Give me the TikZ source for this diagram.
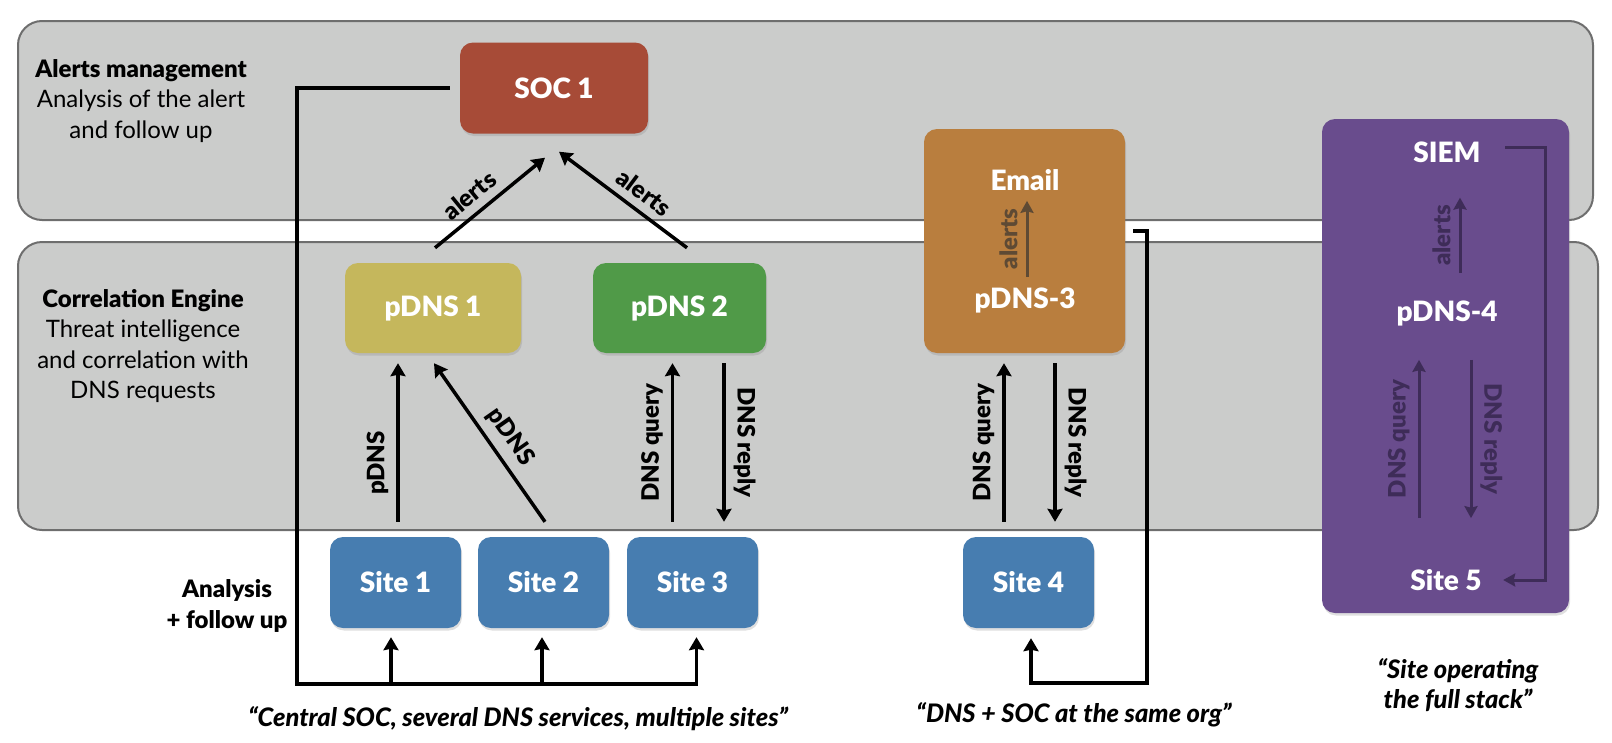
\documentclass[tikz,border=0pt]{standalone}
\usepackage{fontspec}
\setmainfont{Lato}
\newfontfamily\heavyfont{Lato Black}
\usetikzlibrary{arrows.meta,shadows,positioning}

\definecolor{bandfill}{RGB}{203,204,203}
\definecolor{bandline}{RGB}{110,110,110}
\definecolor{soccol}{RGB}{167,75,55}
\definecolor{pdnsonecol}{RGB}{197,183,92}
\definecolor{pdnstwocol}{RGB}{80,154,72}
\definecolor{emailcol}{RGB}{185,126,62}
\definecolor{stackcol}{RGB}{105,76,141}
\definecolor{sitecol}{RGB}{71,125,176}
\definecolor{emailarr}{RGB}{94,74,52}
\definecolor{stackarr}{RGB}{62,44,88}

\newcommand{\boxfont}{\fontsize{28}{31}\selectfont\heavyfont}
\newcommand{\lblfont}{\fontsize{24}{27}\selectfont\heavyfont}
\newcommand{\sidefont}{\fontsize{24}{30.5}\selectfont}
\newcommand{\sidehead}{\heavyfont}
\newcommand{\quotefont}{\fontsize{25.5}{30}\selectfont\heavyfont\itshape}

\tikzset{
  band/.style={draw=bandline,fill=bandfill,line width=2pt,rounded corners=24pt},
  box/.style={rounded corners=13pt,text=white,font=\boxfont,inner sep=0pt,
    drop shadow={opacity=0.25,shadow xshift=1pt,shadow yshift=-2.5pt}},
  sitebox/.style={box,fill=sitecol,minimum width=131pt,minimum height=91pt},
  boxtxt/.style={text=white,font=\boxfont,inner sep=0pt},
  arr/.style={line width=3.5pt,-{Stealth[length=13pt,width=15pt,inset=1.5pt]}},
  inarr/.style={line width=3pt,-{Stealth[length=12pt,width=13pt,inset=1.5pt]}},
  lbl/.style={font=\lblfont,sloped,above=6pt,inner sep=2pt},
}

\begin{document}
\begin{tikzpicture}[x=1pt,y=-1pt]
\useasboundingbox (0,0) rectangle (1612,742);
% layers
\draw[band] (18,21) rectangle (1593,220);
\draw[band] (18,242) rectangle (1598,530);
\node[font=\sidefont,align=center] (alertsmgmt) at (141,101) {{\sidehead Alerts management}\\Analysis of the alert\\and follow up};
\node[font=\sidefont,align=center] (correng) at (143,346) {{\sidehead Correlation Engine}\\Threat intelligence\\and correlation with\\DNS requests};
\node[font=\sidefont\sidehead,align=center] (followup) at (227,606) {Analysis\\+ follow up};

% boxes
\node[box,fill=soccol,minimum width=188pt,minimum height=91pt] (soc1) at (554,88) {SOC 1};
\node[box,fill=pdnsonecol,minimum width=176pt,minimum height=90pt] (pdns1) at (433,308) {pDNS 1};
\node[box,fill=pdnstwocol,minimum width=173pt,minimum height=90pt] (pdns2) at (679.5,308) {pDNS 2};
\node[box,fill=emailcol,minimum width=201pt,minimum height=224pt] (pdns3) at (1024.5,241) {};
\node[boxtxt] (email) at (1025,180) {Email};
\node[boxtxt] (pdns3txt) at (1025,300) {pDNS-3};
\node[box,fill=stackcol,minimum width=247pt,minimum height=494pt] (stack) at (1445.5,366) {};
\node[boxtxt] (siem) at (1447,152) {SIEM};
\node[boxtxt] (pdns4) at (1447,313) {pDNS-4};
\node[boxtxt] (site5) at (1446,580) {Site 5};
\node[sitebox] (site1) at (395.5,582.5) {Site 1};
\node[sitebox] (site2) at (543.5,582.5) {Site 2};
\node[sitebox] (site3) at (692.5,582.5) {Site 3};
\node[sitebox] (site4) at (1028.5,582.5) {Site 4};

% alerts
\draw[arr] ([xshift=2pt,yshift=15pt]pdns1.north) -- node[lbl,pos=0.42]{alerts} ([xshift=-9pt,yshift=-24pt]soc1.south);
\draw[arr] ([xshift=7.5pt,yshift=15pt]pdns2.north) -- node[lbl,pos=0.42]{alerts} ([xshift=5pt,yshift=-18pt]soc1.south);
% sites to pDNS
\draw[arr] ([xshift=2.5pt,yshift=15pt]site1.north) -- node[lbl,pos=0.37]{pDNS} ([xshift=-35pt,yshift=-10pt]pdns1.south);
\draw[arr] ([xshift=1.5pt,yshift=15pt]site2.north) -- node[lbl,pos=0.46]{pDNS} ([xshift=1pt,yshift=-10pt]pdns1.south);
\draw[arr] ([xshift=-20pt,yshift=15pt]site3.north) -- node[lbl]{DNS query} ([xshift=-7pt,yshift=-10pt]pdns2.south);
\draw[arr] ([xshift=44.5pt,yshift=-10pt]pdns2.south) -- node[lbl]{DNS reply} ([xshift=31.5pt,yshift=15pt]site3.north);
\draw[arr] ([xshift=-24.5pt,yshift=15pt]site4.north) -- node[lbl]{DNS query} ([xshift=-20.5pt,yshift=-10pt]pdns3.south);
\draw[arr] ([xshift=30.5pt,yshift=-10pt]pdns3.south) -- node[lbl]{DNS reply} ([xshift=26.5pt,yshift=15pt]site4.north);
% inside the boxes
\draw[inarr,emailarr] ([xshift=2pt,yshift=10pt]pdns3txt.north) -- node[lbl,text=emailarr]{alerts} ([xshift=2pt,yshift=-10pt]email.south);
\draw[inarr,stackarr] ([xshift=13pt,yshift=27pt]pdns4.north) -- node[lbl,text=stackarr]{alerts} ([xshift=13pt,yshift=-35pt]siem.south);
\draw[inarr,stackarr] ([xshift=-27pt,yshift=51pt]site5.north) -- node[lbl,text=stackarr]{DNS query} ([xshift=-28pt,yshift=-34pt]pdns4.south);
\draw[inarr,stackarr] ([xshift=24pt,yshift=-34pt]pdns4.south) -- node[lbl,text=stackarr]{DNS reply} ([xshift=25pt,yshift=51pt]site5.north);
\coordinate (siemturn) at (1545,147);
\draw[inarr,stackarr] ([xshift=-64pt,yshift=5pt]stack.east |- siem.center) -| (siemturn |- site5.center) -- ([xshift=-66pt]stack.east |- site5.center);

% follow up loops
\coordinate (fbcorner) at (297,684);
\draw[arr] ([xshift=-10pt]soc1.west) -| (fbcorner) -| ([xshift=4pt,yshift=-9pt]site3.south);
\draw[arr] ([xshift=-4.5pt]site1.south |- fbcorner) -- ([xshift=-4.5pt,yshift=-9pt]site1.south);
\draw[arr] ([xshift=-1.5pt]site2.south |- fbcorner) -- ([xshift=-1.5pt,yshift=-9pt]site2.south);
\coordinate (emailturn) at (1147,683);
\draw[arr] ([xshift=8pt,yshift=10pt]pdns3.east) -| (emailturn) -| ([xshift=2.5pt,yshift=-10pt]site4.south);

% quotes
\node[font=\quotefont] (centralq) at (518,719) {“Central SOC, several DNS services, multiple sites”};
\node[font=\quotefont] (orgq) at (1074,715) {“DNS + SOC at the same org”};
\node[font=\quotefont,align=center] (stackq) at (1458,685) {“Site operating\\the full stack”};
\end{tikzpicture}
\end{document}
